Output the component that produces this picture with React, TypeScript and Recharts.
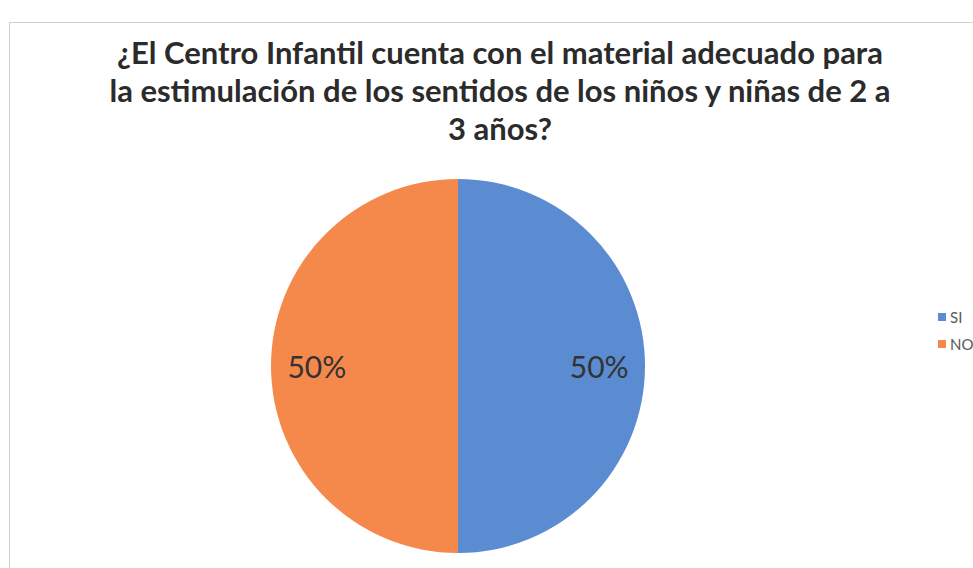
import React from 'react';
import { Cell, Legend, Pie, PieChart } from 'recharts';

const categories = ['SI', 'NO'];
const values = [50, 50];
const colors = ['#5b8bd1', '#f5884b'];
const titleLines = [
  '¿El Centro Infantil cuenta con el material adecuado para',
  'la estimulación de los sentidos de los niños y niñas de 2 a',
  '3 años?',
];

const pieData = categories.map((name, i) => ({ name, value: values[i] }));
const total = values.reduce((a, b) => a + b, 0);

const RADIAN = Math.PI / 180;

const renderLabel = (props: any) => {
  const { cx, cy, midAngle, outerRadius, value } = props;
  const r = outerRadius * 0.755;
  const x = cx + r * Math.cos(-midAngle * RADIAN);
  const y = cy + r * Math.sin(-midAngle * RADIAN);
  return (
    <text x={x} y={y} fill="#333333" fontSize={30} fontFamily="Lato, 'Open Sans', sans-serif"
      textAnchor="middle" dominantBaseline="central">
      {`${Math.round((value / total) * 100)}%`}
    </text>
  );
};

const renderLegend = () => (
  <div style={{ fontFamily: 'Lato, sans-serif', fontSize: 15, color: '#595959', whiteSpace: 'nowrap' }}>
    {pieData.map((d, i) => (
      <div key={d.name} style={{ display: 'flex', alignItems: 'center', height: 27 }}>
        <span style={{ width: 8, height: 8, background: colors[i], marginRight: 4, display: 'inline-block' }} />
        {d.name}
      </div>
    ))}
  </div>
);

const App = () => {
  return (
    <div style={{ position: 'fixed', left: 0, top: 0, width: 973, height: 568, background: '#fff', overflow: 'hidden' }}>
      <div style={{ position: 'absolute', left: 9, top: 22, width: 1000, height: 600, border: '1px solid #d0d0d0' }} />
      <div style={{
        position: 'absolute', left: 0, top: 33, width: 1000, textAlign: 'center',
        fontFamily: 'Lato, "Open Sans", sans-serif', fontWeight: 700, fontSize: 31,
        lineHeight: '38px', color: '#2b2b2b',
      }}>
        {titleLines.map(line => <div key={line}>{line}</div>)}
      </div>
      <div style={{ position: 'absolute', left: 0, top: 0 }}>
        <PieChart width={973} height={568}>
          <Pie
            data={pieData}
            dataKey="value"
            nameKey="name"
            cx={453}
            cy={361}
            outerRadius={187}
            startAngle={90}
            endAngle={-270}
            stroke="none"
            label={renderLabel}
            labelLine={false}
            isAnimationActive={false}
          >
            {pieData.map((entry, index) => (
              <Cell key={`cell-${index}`} fill={colors[index]} />
            ))}
          </Pie>
          <Legend content={renderLegend} wrapperStyle={{ left: 938, top: 303, width: 60 }} />
        </PieChart>
      </div>
    </div>
  );
};

export default App;
